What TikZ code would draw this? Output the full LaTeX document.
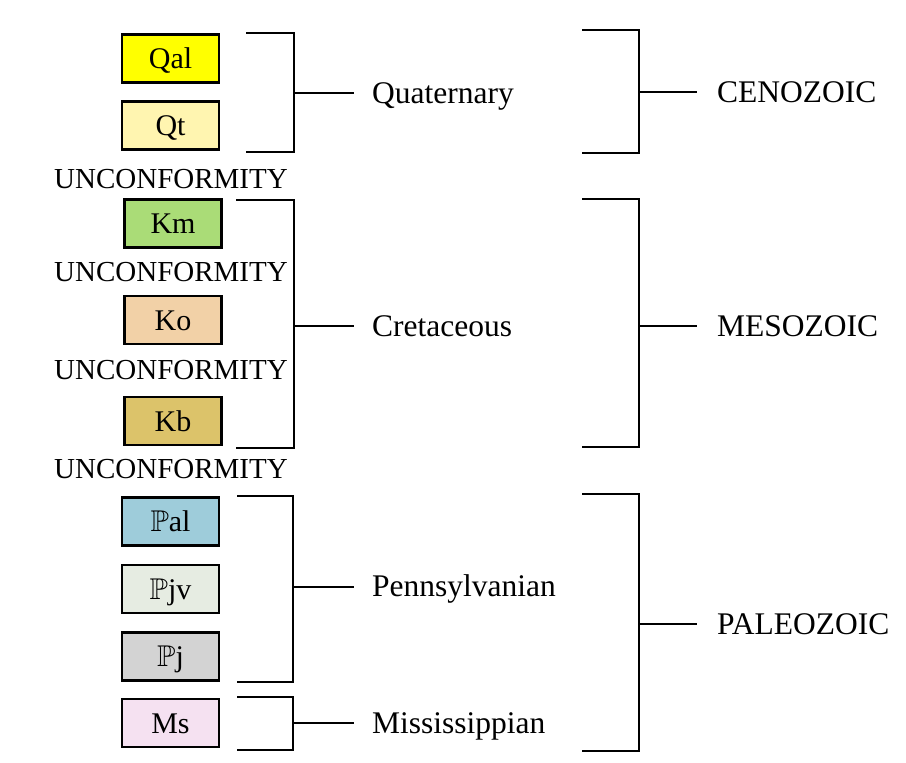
\documentclass[tikz,border=0pt]{standalone}
\usepackage{amssymb}
\usepackage{fontspec}
\setmainfont{Liberation Serif}
\begin{document}
\begin{tikzpicture}[x=1pt,y=-1pt,
  unit/.style={draw, line width=2.1pt, minimum width=97pt, minimum height=48pt, inner sep=0pt, text height=20pt, text depth=0pt, font=\fontsize{30}{36}\selectfont},
  lbl/.style={anchor=west, inner sep=0pt, text height=20.8pt, text depth=0pt, font=\fontsize{31.5}{37}\selectfont},
  unc/.style={inner sep=0pt, text height=19pt, text depth=0pt, font=\fontsize{29}{35}\selectfont},
  brk/.style={line width=2.7pt}]
\useasboundingbox (0,0) rectangle (906,763);
\definecolor{cQal}{HTML}{FFFF00}
\definecolor{cQt}{HTML}{FFF5B0}
\definecolor{cKm}{HTML}{AADC77}
\definecolor{cKo}{HTML}{F2D1A7}
\definecolor{cKb}{HTML}{DCC36A}
\definecolor{cPal}{HTML}{9ECCDA}
\definecolor{cPjv}{HTML}{E6ECE2}
\definecolor{cPj}{HTML}{D3D3D3}
\definecolor{cMs}{HTML}{F5E1F1}
% unit boxes
\node[unit, fill=cQal] (qal) at (170.5,58.5) {Qal};
\node[unit, fill=cQt]  (qt)  at (170.5,125.5) {Qt};
\node[unit, fill=cKm]  (km)  at (173,223.5) {Km};
\node[unit, fill=cKo]  (ko)  at (173,320) {Ko};
\node[unit, fill=cKb]  (kb)  at (173,421) {Kb};
\node[unit, fill=cPal] (pal) at (170.5,521.5) {$\mathbb{P}$al};
\node[unit, fill=cPjv] (pjv) at (170.5,589) {$\mathbb{P}$jv};
\node[unit, fill=cPj]  (pj)  at (170.5,656.5) {$\mathbb{P}$j};
\node[unit, fill=cMs]  (ms)  at (170.5,723) {Ms};
% unconformities
\node[unc] (u1) at (171,179) {UNCONFORMITY};
\node[unc] (u2) at (171,272) {UNCONFORMITY};
\node[unc] (u3) at (171,370) {UNCONFORMITY};
\node[unc] (u4) at (171,469) {UNCONFORMITY};
% period labels
\node[lbl] (quat) at (372,93) {Quaternary};
\node[lbl] (cret) at (372,326) {Cretaceous};
\node[lbl] (penn) at (372,586) {Pennsylvanian};
\node[lbl] (miss) at (372,723) {Mississippian};
% era labels
\node[lbl] (ceno) at (717,92) {CENOZOIC};
\node[lbl] (meso) at (717,326) {MESOZOIC};
\node[lbl] (paleo) at (717,624) {PALEOZOIC};
% period brackets
\coordinate (qa) at (246,33); \coordinate (qb) at (246,152); \coordinate (qm) at (294,93);
\draw[brk] (qa) -| (qm) |- (qb);
\draw[brk] (qm) -- ([xshift=-18pt]quat.west);
\coordinate (ca) at (236,200); \coordinate (cb) at (236,448); \coordinate (cm) at (294,326);
\draw[brk] (ca) -| (cm) |- (cb);
\draw[brk] (cm) -- ([xshift=-18pt]cret.west);
\coordinate (pa) at (237,496); \coordinate (pb) at (237,682); \coordinate (pm) at (293,587);
\draw[brk] (pa) -| (pm) |- (pb);
\draw[brk] (pm) -- ([xshift=-18pt]penn.west |- pm);
\coordinate (ma) at (237,697); \coordinate (mb) at (237,750); \coordinate (mm) at (293,723);
\draw[brk] (ma) -| (mm) |- (mb);
\draw[brk] (mm) -- ([xshift=-18pt]miss.west);
% era brackets
\coordinate (ea) at (582,30); \coordinate (eb) at (582,153); \coordinate (em) at (639,92);
\draw[brk] (ea) -| (em) |- (eb);
\draw[brk] (em) -- ([xshift=-20pt]ceno.west);
\coordinate (za) at (582,199); \coordinate (zb) at (582,447); \coordinate (zm) at (639,326);
\draw[brk] (za) -| (zm) |- (zb);
\draw[brk] (zm) -- ([xshift=-20pt]meso.west);
\coordinate (la) at (582,494); \coordinate (lb) at (582,751); \coordinate (lm) at (639,624);
\draw[brk] (la) -| (lm) |- (lb);
\draw[brk] (lm) -- ([xshift=-20pt]paleo.west);
\end{tikzpicture}
\end{document}
